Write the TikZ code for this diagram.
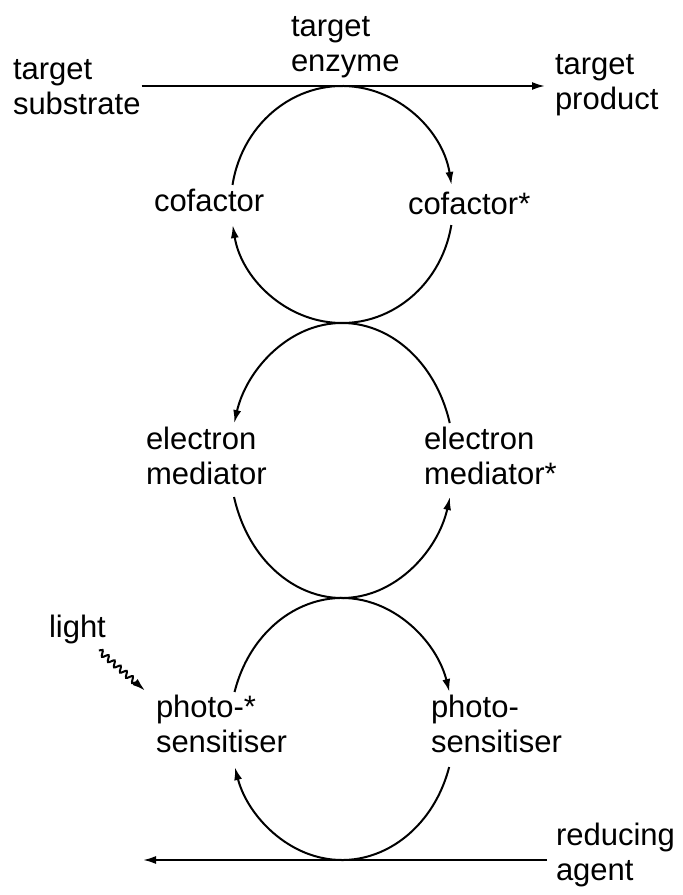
\documentclass[tikz,border=0pt]{standalone}
\usepackage{fontspec}
\setmainfont{Liberation Sans}
\usetikzlibrary{arrows.meta,decorations.pathmorphing,calc}

\begin{document}
\begin{tikzpicture}[x=0.5pt,y=0.5pt,line width=1pt,
  lbl/.style={inner sep=0pt,anchor=base west,align=left,font=\fontsize{15.5}{17.5}\selectfont},
  tip/.style={-{Latex[length=6.5pt,width=4pt]}}]
\useasboundingbox (0,0) rectangle (682,895);

% centres of the three cycles and the two touching points
\coordinate (c1) at (342,690.5);
\coordinate (c2) at (342,434.5);
\coordinate (c3) at (342,166);
\coordinate (top) at (342,809);
\coordinate (bot) at (342,35);
\coordinate (left end) at (143,35);

% two-line labels sit on the baseline of their last line
\node[lbl] (enz) at (290,823) {target\\enzyme};
\node[lbl] (sub) at (12,780) {target\\substrate};
\node[lbl] (prod) at (554,785) {target\\product};

\node[lbl] (cof) at (153,683) {cofactor};
\node[lbl] (cofs) at (407,680) {cofactor*};

\node[lbl] (em) at (145,410) {electron\\mediator};
\node[lbl] (ems) at (423,410) {electron\\mediator*};

\node[lbl] (light) at (48,257) {light};
\node[lbl] (pss) at (155,142) {photo-*\\sensitiser};
\node[lbl] (ps) at (430,142) {photo-\\sensitiser};

\node[lbl] (red) at (555,15) {reducing\\agent};

% substrate to product
\draw[tip] (sub.east |- top) -- ($(prod.west |- top)+(-9,0)$);

% cofactor cycle
\draw[tip] (c1) ++(170.5:111 and 118.5) arc[start angle=170.5,end angle=9.5,x radius=111,y radius=118.5];
\draw[tip] (c1) ++(-10:111 and 118.5) arc[start angle=-10,end angle=-170,x radius=111,y radius=118.5];

% mediator cycle
\draw[tip] (c2) ++(15.8:112 and 137.5) arc[start angle=15.8,end angle=164.2,x radius=112,y radius=137.5];
\draw[tip] (c2) ++(195.4:112 and 137.5) arc[start angle=195.4,end angle=344.6,x radius=112,y radius=137.5];

% photosensitiser cycle
\draw[tip] (c3) ++(163.6:112 and 131) arc[start angle=163.6,end angle=16.4,x radius=112,y radius=131];
\draw[tip] (c3) ++(-16.9:112 and 131) arc[start angle=-16.9,end angle=-163.1,x radius=112,y radius=131];

% reducing agent line
\draw[tip] ($(red.west |- bot)+(-8,0)$) -- (left end);

% light
\draw[tip,decorate,decoration={snake,amplitude=1.4pt,segment length=4pt,post length=6pt}]
  ($(light.south east)+(-8,-5)$) -- ($(pss.north west)+(-10,4)$);
\end{tikzpicture}
\end{document}
